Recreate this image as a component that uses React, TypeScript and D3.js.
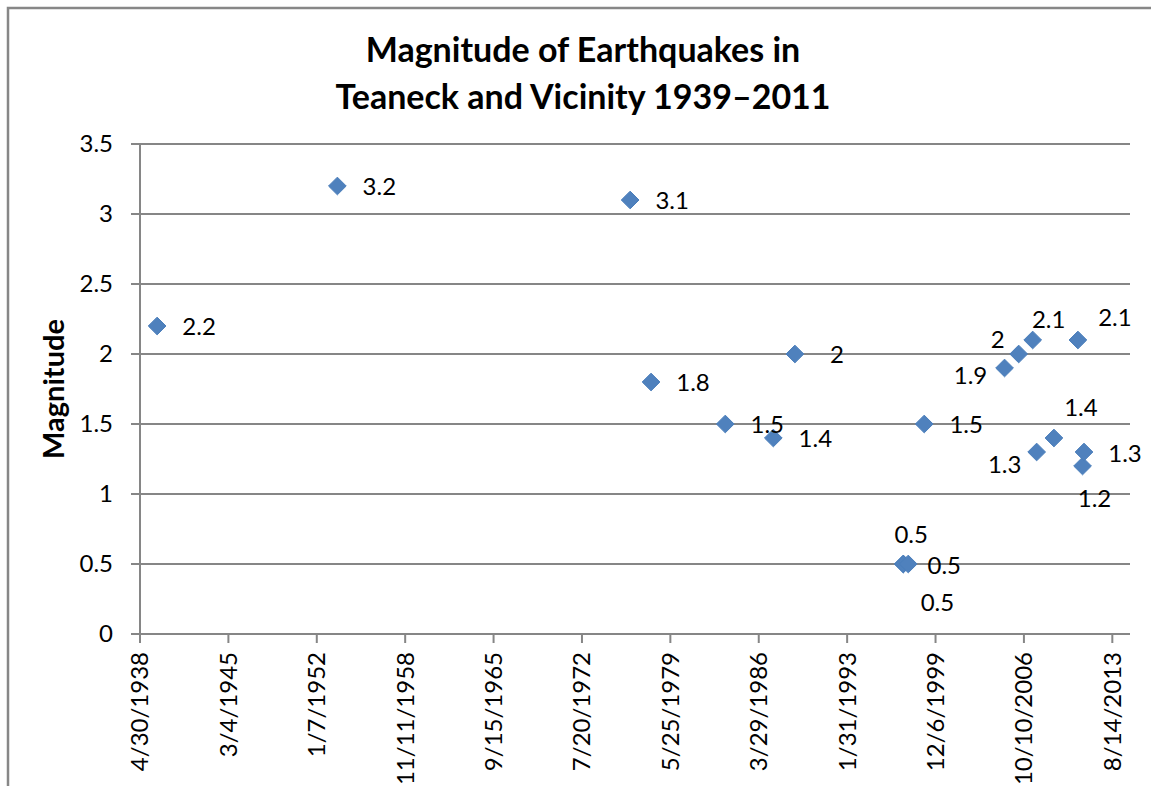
import React from 'react';
import * as d3 from 'd3';

// quake dates (UTC) and magnitudes
const quakeDates = [
  '1939-08-27', '1953-08-11', '1976-04-13', '1977-11-25', '1983-08-25',
  '1987-05-15', '1989-01-15', '1997-06-05', '1997-06-10', '1997-10-25',
  '1999-01-20', '2005-04-10', '2006-05-15', '2007-06-15', '2007-10-05',
  '2009-02-05', '2010-12-15', '2011-04-25', '2011-06-05',
];
const magnitudes = [
  2.2, 3.2, 3.1, 1.8, 1.5,
  1.4, 2.0, 0.5, 0.5, 0.5,
  1.5, 1.9, 2.0, 2.1, 1.3,
  1.4, 2.1, 1.2, 1.3,
];

// where each data label sits relative to its marker (label centre, px)
const labelNudge: [number, number][] = [
  [42, 1], [42, 1], [42, 1], [42, 1], [42, 1],
  [42, 1], [42, 1], [8, -29], [34, 39], [36, 2],
  [42, 1], [-34, 8], [-21, -14], [16, -20], [-32, 13],
  [27, -30], [37, -22], [12, 33], [41, 2],
];

const xTickLabels = [
  '4/30/1938', '3/4/1945', '1/7/1952', '11/11/1958', '9/15/1965', '7/20/1972',
  '5/25/1979', '3/29/1986', '1/31/1993', '12/6/1999', '10/10/2006', '8/14/2013',
];
const yTicks = [0, 0.5, 1, 1.5, 2, 2.5, 3, 3.5];

const W = 1151;
const H = 786;
const plot = { left: 140, right: 1130, top: 144, bottom: 634 };
const gridColor = '#868686';
const font = 'Lato, "Open Sans", sans-serif';

const parseIso = d3.utcParse('%Y-%m-%d');
const parseTick = d3.utcParse('%m/%d/%Y');

const App = () => {
  const tickDates = xTickLabels.map((t) => parseTick(t) as Date);
  const start = tickDates[0];
  // excel axis: 2500-day major unit, 28000 days long
  const end = d3.utcDay.offset(start, 28000);

  const xScale = d3.scaleUtc().domain([start, end]).range([plot.left, plot.right]);
  const yScale = d3.scaleLinear().domain([0, 3.5]).range([plot.bottom, plot.top]);

  const points = quakeDates.map((d, i) => ({
    date: parseIso(d) as Date,
    value: magnitudes[i],
    nudge: labelNudge[i],
  }));

  const diamond = d3.symbol().type(d3.symbolDiamond2).size(200)();

  return (
    <svg
      width={W}
      height={H}
      style={{ position: 'absolute', left: 0, top: 0, background: '#fff' }}
      fontFamily={font}
    >
      {/* chart frame, cut off by the picture edges */}
      <rect x={8} y={8} width={1300} height={1000} fill='#fff' stroke='#878787' strokeWidth={2.5} />

      {/* title */}
      <text x={583} y={62} textAnchor='middle' fontSize={34} fontWeight='bold' fill='#000'>
        Magnitude of Earthquakes in
      </text>
      <text x={583} y={109} textAnchor='middle' fontSize={34} fontWeight='bold' fill='#000'>
        Teaneck and Vicinity 1939–2011
      </text>

      {/* gridlines + y axis */}
      {yTicks.map((t) => (
        <g key={t}>
          <line
            x1={plot.left - 9}
            x2={plot.right}
            y1={yScale(t)}
            y2={yScale(t)}
            stroke={gridColor}
            strokeWidth={2}
          />
          <text
            x={113}
            y={yScale(t)}
            dy='0.35em'
            textAnchor='end'
            fontSize={24}
            fill='#000'
          >
            {d3.format('')(t)}
          </text>
        </g>
      ))}
      <line x1={plot.left} x2={plot.left} y1={plot.top} y2={plot.bottom} stroke={gridColor} strokeWidth={2} />

      {/* x axis ticks */}
      {tickDates.map((d, i) => (
        <g key={xTickLabels[i]}>
          <line
            x1={xScale(d)}
            x2={xScale(d)}
            y1={plot.bottom}
            y2={plot.bottom + 9}
            stroke={gridColor}
            strokeWidth={2}
          />
          <text
            transform={`translate(${xScale(d)}, 652) rotate(-90)`}
            dy='0.35em'
            textAnchor='end'
            fontSize={24}
            fill='#000'
          >
            {xTickLabels[i]}
          </text>
        </g>
      ))}

      {/* y axis title */}
      <text
        transform={`translate(54, ${(plot.top + plot.bottom) / 2}) rotate(-90)`}
        dy='0.35em'
        textAnchor='middle'
        fontSize={29}
        fontWeight='bold'
        fill='#000'
      >
        Magnitude
      </text>

      {/* markers */}
      {points.map((p, i) => (
        <path
          key={'m' + i}
          d={diamond as string}
          transform={`translate(${xScale(p.date)}, ${yScale(p.value)})`}
          fill='#4F81BD'
          stroke='#4A7EBB'
          strokeWidth={1}
        />
      ))}

      {/* data labels */}
      {points.map((p, i) => (
        <text
          key={'l' + i}
          x={xScale(p.date) + p.nudge[0]}
          y={yScale(p.value) + p.nudge[1]}
          dy='0.35em'
          textAnchor='middle'
          fontSize={24}
          fill='#000'
        >
          {d3.format('')(p.value)}
        </text>
      ))}
    </svg>
  );
};

export default App;
